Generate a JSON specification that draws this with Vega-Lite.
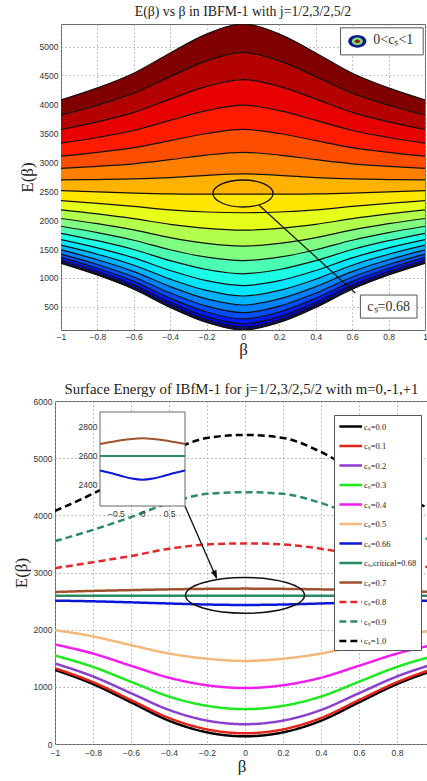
{
"$schema":"https://vega.github.io/schema/vega-lite/v6.json",
"background":"white",
"padding":{"left":11,"top":4,"right":0,"bottom":0},
"columns":1,
"spacing":23,
"resolve":{"scale":{"color":"independent","strokeDash":"independent"},"legend":{"color":"independent","strokeDash":"independent"}},
"datasets":{
"contours":[
{"b":-1,"k":0,"E":1253},{"b":-0.8,"k":0,"E":1050},{"b":-0.6,"k":0,"E":805},{"b":-0.4,"k":0,"E":490},{"b":-0.2,"k":0,"E":230},{"b":0,"k":0,"E":100},{"b":0.2,"k":0,"E":230},{"b":0.4,"k":0,"E":490},{"b":0.6,"k":0,"E":805},{"b":0.8,"k":0,"E":1050},{"b":1,"k":0,"E":1253},
{"b":-1,"k":1,"E":1259},{"b":-0.8,"k":1,"E":1057},{"b":-0.6,"k":1,"E":813},{"b":-0.4,"k":1,"E":500},{"b":-0.2,"k":1,"E":241},{"b":0,"k":1,"E":112},{"b":0.2,"k":1,"E":241},{"b":0.4,"k":1,"E":500},{"b":0.6,"k":1,"E":813},{"b":0.8,"k":1,"E":1057},{"b":1,"k":1,"E":1259},
{"b":-1,"k":2,"E":1279},{"b":-0.8,"k":2,"E":1079},{"b":-0.6,"k":2,"E":839},{"b":-0.4,"k":2,"E":530},{"b":-0.2,"k":2,"E":275},{"b":0,"k":2,"E":148},{"b":0.2,"k":2,"E":275},{"b":0.4,"k":2,"E":530},{"b":0.6,"k":2,"E":839},{"b":0.8,"k":2,"E":1079},{"b":1,"k":2,"E":1279},
{"b":-1,"k":3,"E":1311},{"b":-0.8,"k":3,"E":1116},{"b":-0.6,"k":3,"E":881},{"b":-0.4,"k":3,"E":580},{"b":-0.2,"k":3,"E":332},{"b":0,"k":3,"E":208},{"b":0.2,"k":3,"E":332},{"b":0.4,"k":3,"E":580},{"b":0.6,"k":3,"E":881},{"b":0.8,"k":3,"E":1116},{"b":1,"k":3,"E":1311},
{"b":-1,"k":4,"E":1356},{"b":-0.8,"k":4,"E":1167},{"b":-0.6,"k":4,"E":941},{"b":-0.4,"k":4,"E":650},{"b":-0.2,"k":4,"E":411},{"b":0,"k":4,"E":292},{"b":0.2,"k":4,"E":411},{"b":0.4,"k":4,"E":650},{"b":0.6,"k":4,"E":941},{"b":0.8,"k":4,"E":1167},{"b":1,"k":4,"E":1356},
{"b":-1,"k":5,"E":1413},{"b":-0.8,"k":5,"E":1233},{"b":-0.6,"k":5,"E":1017},{"b":-0.4,"k":5,"E":739},{"b":-0.2,"k":5,"E":513},{"b":0,"k":5,"E":400},{"b":0.2,"k":5,"E":513},{"b":0.4,"k":5,"E":739},{"b":0.6,"k":5,"E":1017},{"b":0.8,"k":5,"E":1233},{"b":1,"k":5,"E":1413},
{"b":-1,"k":6,"E":1484},{"b":-0.8,"k":6,"E":1314},{"b":-0.6,"k":6,"E":1110},{"b":-0.4,"k":6,"E":849},{"b":-0.2,"k":6,"E":637},{"b":0,"k":6,"E":532},{"b":0.2,"k":6,"E":637},{"b":0.4,"k":6,"E":849},{"b":0.6,"k":6,"E":1110},{"b":0.8,"k":6,"E":1314},{"b":1,"k":6,"E":1484},
{"b":-1,"k":7,"E":1567},{"b":-0.8,"k":7,"E":1410},{"b":-0.6,"k":7,"E":1220},{"b":-0.4,"k":7,"E":979},{"b":-0.2,"k":7,"E":784},{"b":0,"k":7,"E":688},{"b":0.2,"k":7,"E":784},{"b":0.4,"k":7,"E":979},{"b":0.6,"k":7,"E":1220},{"b":0.8,"k":7,"E":1410},{"b":1,"k":7,"E":1567},
{"b":-1,"k":8,"E":1663},{"b":-0.8,"k":8,"E":1520},{"b":-0.6,"k":8,"E":1347},{"b":-0.4,"k":8,"E":1129},{"b":-0.2,"k":8,"E":953},{"b":0,"k":8,"E":868},{"b":0.2,"k":8,"E":953},{"b":0.4,"k":8,"E":1129},{"b":0.6,"k":8,"E":1347},{"b":0.8,"k":8,"E":1520},{"b":1,"k":8,"E":1663},
{"b":-1,"k":9,"E":1772},{"b":-0.8,"k":9,"E":1644},{"b":-0.6,"k":9,"E":1491},{"b":-0.4,"k":9,"E":1298},{"b":-0.2,"k":9,"E":1146},{"b":0,"k":9,"E":1072},{"b":0.2,"k":9,"E":1146},{"b":0.4,"k":9,"E":1298},{"b":0.6,"k":9,"E":1491},{"b":0.8,"k":9,"E":1644},{"b":1,"k":9,"E":1772},
{"b":-1,"k":10,"E":1894},{"b":-0.8,"k":10,"E":1784},{"b":-0.6,"k":10,"E":1652},{"b":-0.4,"k":10,"E":1488},{"b":-0.2,"k":10,"E":1360},{"b":0,"k":10,"E":1300},{"b":0.2,"k":10,"E":1360},{"b":0.4,"k":10,"E":1488},{"b":0.6,"k":10,"E":1652},{"b":0.8,"k":10,"E":1784},{"b":1,"k":10,"E":1894},
{"b":-1,"k":11,"E":2028},{"b":-0.8,"k":11,"E":1938},{"b":-0.6,"k":11,"E":1830},{"b":-0.4,"k":11,"E":1697},{"b":-0.2,"k":11,"E":1598},{"b":0,"k":11,"E":1551},{"b":0.2,"k":11,"E":1598},{"b":0.4,"k":11,"E":1697},{"b":0.6,"k":11,"E":1830},{"b":0.8,"k":11,"E":1938},{"b":1,"k":11,"E":2028},
{"b":-1,"k":12,"E":2176},{"b":-0.8,"k":12,"E":2107},{"b":-0.6,"k":12,"E":2025},{"b":-0.4,"k":12,"E":1927},{"b":-0.2,"k":12,"E":1858},{"b":0,"k":12,"E":1827},{"b":0.2,"k":12,"E":1858},{"b":0.4,"k":12,"E":1927},{"b":0.6,"k":12,"E":2025},{"b":0.8,"k":12,"E":2107},{"b":1,"k":12,"E":2176},
{"b":-1,"k":13,"E":2336},{"b":-0.8,"k":13,"E":2290},{"b":-0.6,"k":13,"E":2236},{"b":-0.4,"k":13,"E":2176},{"b":-0.2,"k":13,"E":2140},{"b":0,"k":13,"E":2127},{"b":0.2,"k":13,"E":2140},{"b":0.4,"k":13,"E":2176},{"b":0.6,"k":13,"E":2236},{"b":0.8,"k":13,"E":2290},{"b":1,"k":13,"E":2336},
{"b":-1,"k":14,"E":2509},{"b":-0.8,"k":14,"E":2488},{"b":-0.6,"k":14,"E":2465},{"b":-0.4,"k":14,"E":2452},{"b":-0.2,"k":14,"E":2449},{"b":0,"k":14,"E":2450},{"b":0.2,"k":14,"E":2449},{"b":0.4,"k":14,"E":2452},{"b":0.6,"k":14,"E":2465},{"b":0.8,"k":14,"E":2488},{"b":1,"k":14,"E":2509},
{"b":-1,"k":15,"E":2694},{"b":-0.8,"k":15,"E":2701},{"b":-0.6,"k":15,"E":2711},{"b":-0.4,"k":15,"E":2735},{"b":-0.2,"k":15,"E":2773},{"b":0,"k":15,"E":2799},{"b":0.2,"k":15,"E":2773},{"b":0.4,"k":15,"E":2735},{"b":0.6,"k":15,"E":2711},{"b":0.8,"k":15,"E":2701},{"b":1,"k":15,"E":2694},
{"b":-1,"k":16,"E":2893},{"b":-0.8,"k":16,"E":2929},{"b":-0.6,"k":16,"E":2973},{"b":-0.4,"k":16,"E":3044},{"b":-0.2,"k":16,"E":3124},{"b":0,"k":16,"E":3171},{"b":0.2,"k":16,"E":3124},{"b":0.4,"k":16,"E":3044},{"b":0.6,"k":16,"E":2973},{"b":0.8,"k":16,"E":2929},{"b":1,"k":16,"E":2893},
{"b":-1,"k":17,"E":3104},{"b":-0.8,"k":17,"E":3171},{"b":-0.6,"k":17,"E":3253},{"b":-0.4,"k":17,"E":3373},{"b":-0.2,"k":17,"E":3497},{"b":0,"k":17,"E":3567},{"b":0.2,"k":17,"E":3497},{"b":0.4,"k":17,"E":3373},{"b":0.6,"k":17,"E":3253},{"b":0.8,"k":17,"E":3171},{"b":1,"k":17,"E":3104},
{"b":-1,"k":18,"E":3329},{"b":-0.8,"k":18,"E":3428},{"b":-0.6,"k":18,"E":3549},{"b":-0.4,"k":18,"E":3723},{"b":-0.2,"k":18,"E":3892},{"b":0,"k":18,"E":3987},{"b":0.2,"k":18,"E":3892},{"b":0.4,"k":18,"E":3723},{"b":0.6,"k":18,"E":3549},{"b":0.8,"k":18,"E":3428},{"b":1,"k":18,"E":3329},
{"b":-1,"k":19,"E":3566},{"b":-0.8,"k":19,"E":3699},{"b":-0.6,"k":19,"E":3863},{"b":-0.4,"k":19,"E":4092},{"b":-0.2,"k":19,"E":4311},{"b":0,"k":19,"E":4430},{"b":0.2,"k":19,"E":4311},{"b":0.4,"k":19,"E":4092},{"b":0.6,"k":19,"E":3863},{"b":0.8,"k":19,"E":3699},{"b":1,"k":19,"E":3566},
{"b":-1,"k":20,"E":3815},{"b":-0.8,"k":20,"E":3985},{"b":-0.6,"k":20,"E":4193},{"b":-0.4,"k":20,"E":4481},{"b":-0.2,"k":20,"E":4752},{"b":0,"k":20,"E":4898},{"b":0.2,"k":20,"E":4752},{"b":0.4,"k":20,"E":4481},{"b":0.6,"k":20,"E":4193},{"b":0.8,"k":20,"E":3985},{"b":1,"k":20,"E":3815},
{"b":-1,"k":21,"E":4078},{"b":-0.8,"k":21,"E":4286},{"b":-0.6,"k":21,"E":4540},{"b":-0.4,"k":21,"E":4890},{"b":-0.2,"k":21,"E":5215},{"b":0,"k":21,"E":5390},{"b":0.2,"k":21,"E":5215},{"b":0.4,"k":21,"E":4890},{"b":0.6,"k":21,"E":4540},{"b":0.8,"k":21,"E":4286},{"b":1,"k":21,"E":4078}
],
"energy":[
{"b":-1,"c":0,"s":"cₛ=0.0","E":1297},{"b":-0.8,"c":0,"s":"cₛ=0.0","E":1049},{"b":-0.6,"c":0,"s":"cₛ=0.0","E":729},{"b":-0.4,"c":0,"s":"cₛ=0.0","E":408},{"b":-0.2,"c":0,"s":"cₛ=0.0","E":204},{"b":0,"c":0,"s":"cₛ=0.0","E":135},{"b":0.2,"c":0,"s":"cₛ=0.0","E":204},{"b":0.4,"c":0,"s":"cₛ=0.0","E":408},{"b":0.6,"c":0,"s":"cₛ=0.0","E":729},{"b":0.8,"c":0,"s":"cₛ=0.0","E":1049},{"b":1,"c":0,"s":"cₛ=0.0","E":1297},
{"b":-1,"c":0.1,"s":"cₛ=0.1","E":1325},{"b":-0.8,"c":0.1,"s":"cₛ=0.1","E":1082},{"b":-0.6,"c":0.1,"s":"cₛ=0.1","E":769},{"b":-0.4,"c":0.1,"s":"cₛ=0.1","E":455},{"b":-0.2,"c":0.1,"s":"cₛ=0.1","E":256},{"b":0,"c":0.1,"s":"cₛ=0.1","E":188},{"b":0.2,"c":0.1,"s":"cₛ=0.1","E":256},{"b":0.4,"c":0.1,"s":"cₛ=0.1","E":455},{"b":0.6,"c":0.1,"s":"cₛ=0.1","E":769},{"b":0.8,"c":0.1,"s":"cₛ=0.1","E":1082},{"b":1,"c":0.1,"s":"cₛ=0.1","E":1325},
{"b":-1,"c":0.2,"s":"cₛ=0.2","E":1408},{"b":-0.8,"c":0.2,"s":"cₛ=0.2","E":1182},{"b":-0.6,"c":0.2,"s":"cₛ=0.2","E":889},{"b":-0.4,"c":0.2,"s":"cₛ=0.2","E":596},{"b":-0.2,"c":0.2,"s":"cₛ=0.2","E":410},{"b":0,"c":0.2,"s":"cₛ=0.2","E":346},{"b":0.2,"c":0.2,"s":"cₛ=0.2","E":410},{"b":0.4,"c":0.2,"s":"cₛ=0.2","E":596},{"b":0.6,"c":0.2,"s":"cₛ=0.2","E":889},{"b":0.8,"c":0.2,"s":"cₛ=0.2","E":1182},{"b":1,"c":0.2,"s":"cₛ=0.2","E":1408},
{"b":-1,"c":0.3,"s":"cₛ=0.3","E":1547},{"b":-0.8,"c":0.3,"s":"cₛ=0.3","E":1349},{"b":-0.6,"c":0.3,"s":"cₛ=0.3","E":1089},{"b":-0.4,"c":0.3,"s":"cₛ=0.3","E":831},{"b":-0.2,"c":0.3,"s":"cₛ=0.3","E":668},{"b":0,"c":0.3,"s":"cₛ=0.3","E":610},{"b":0.2,"c":0.3,"s":"cₛ=0.3","E":668},{"b":0.4,"c":0.3,"s":"cₛ=0.3","E":831},{"b":0.6,"c":0.3,"s":"cₛ=0.3","E":1089},{"b":0.8,"c":0.3,"s":"cₛ=0.3","E":1349},{"b":1,"c":0.3,"s":"cₛ=0.3","E":1547},
{"b":-1,"c":0.4,"s":"cₛ=0.4","E":1742},{"b":-0.8,"c":0.4,"s":"cₛ=0.4","E":1582},{"b":-0.6,"c":0.4,"s":"cₛ=0.4","E":1369},{"b":-0.4,"c":0.4,"s":"cₛ=0.4","E":1160},{"b":-0.2,"c":0.4,"s":"cₛ=0.4","E":1028},{"b":0,"c":0.4,"s":"cₛ=0.4","E":979},{"b":0.2,"c":0.4,"s":"cₛ=0.4","E":1028},{"b":0.4,"c":0.4,"s":"cₛ=0.4","E":1160},{"b":0.6,"c":0.4,"s":"cₛ=0.4","E":1369},{"b":0.8,"c":0.4,"s":"cₛ=0.4","E":1582},{"b":1,"c":0.4,"s":"cₛ=0.4","E":1742},
{"b":-1,"c":0.5,"s":"cₛ=0.5","E":1992},{"b":-0.8,"c":0.5,"s":"cₛ=0.5","E":1882},{"b":-0.6,"c":0.5,"s":"cₛ=0.5","E":1729},{"b":-0.4,"c":0.5,"s":"cₛ=0.5","E":1583},{"b":-0.2,"c":0.5,"s":"cₛ=0.5","E":1492},{"b":0,"c":0.5,"s":"cₛ=0.5","E":1453},{"b":0.2,"c":0.5,"s":"cₛ=0.5","E":1492},{"b":0.4,"c":0.5,"s":"cₛ=0.5","E":1583},{"b":0.6,"c":0.5,"s":"cₛ=0.5","E":1729},{"b":0.8,"c":0.5,"s":"cₛ=0.5","E":1882},{"b":1,"c":0.5,"s":"cₛ=0.5","E":1992},
{"b":-1,"c":0.66,"s":"cₛ=0.66","E":2508},{"b":-0.8,"c":0.66,"s":"cₛ=0.66","E":2496},{"b":-0.6,"c":0.66,"s":"cₛ=0.66","E":2478},{"b":-0.4,"c":0.66,"s":"cₛ=0.66","E":2458},{"b":-0.2,"c":0.66,"s":"cₛ=0.66","E":2440},{"b":0,"c":0.66,"s":"cₛ=0.66","E":2432},{"b":0.2,"c":0.66,"s":"cₛ=0.66","E":2440},{"b":0.4,"c":0.66,"s":"cₛ=0.66","E":2458},{"b":0.6,"c":0.66,"s":"cₛ=0.66","E":2478},{"b":0.8,"c":0.66,"s":"cₛ=0.66","E":2496},{"b":1,"c":0.66,"s":"cₛ=0.66","E":2508},
{"b":-1,"c":0.68,"s":"cₛ,critical=0.68","E":2595},{"b":-0.8,"c":0.68,"s":"cₛ,critical=0.68","E":2595},{"b":-0.6,"c":0.68,"s":"cₛ,critical=0.68","E":2595},{"b":-0.4,"c":0.68,"s":"cₛ,critical=0.68","E":2595},{"b":-0.2,"c":0.68,"s":"cₛ,critical=0.68","E":2595},{"b":0,"c":0.68,"s":"cₛ,critical=0.68","E":2595},{"b":0.2,"c":0.68,"s":"cₛ,critical=0.68","E":2595},{"b":0.4,"c":0.68,"s":"cₛ,critical=0.68","E":2595},{"b":0.6,"c":0.68,"s":"cₛ,critical=0.68","E":2595},{"b":0.8,"c":0.68,"s":"cₛ,critical=0.68","E":2595},{"b":1,"c":0.68,"s":"cₛ,critical=0.68","E":2595},
{"b":-1,"c":0.7,"s":"cₛ=0.7","E":2659},{"b":-0.8,"c":0.7,"s":"cₛ=0.7","E":2678},{"b":-0.6,"c":0.7,"s":"cₛ=0.7","E":2692},{"b":-0.4,"c":0.7,"s":"cₛ=0.7","E":2705},{"b":-0.2,"c":0.7,"s":"cₛ=0.7","E":2714},{"b":0,"c":0.7,"s":"cₛ=0.7","E":2718},{"b":0.2,"c":0.7,"s":"cₛ=0.7","E":2714},{"b":0.4,"c":0.7,"s":"cₛ=0.7","E":2705},{"b":0.6,"c":0.7,"s":"cₛ=0.7","E":2692},{"b":0.8,"c":0.7,"s":"cₛ=0.7","E":2678},{"b":1,"c":0.7,"s":"cₛ=0.7","E":2659},
{"b":-1,"c":0.8,"s":"cₛ=0.8","E":3076},{"b":-0.8,"c":0.8,"s":"cₛ=0.8","E":3180},{"b":-0.6,"c":0.8,"s":"cₛ=0.8","E":3289},{"b":-0.4,"c":0.8,"s":"cₛ=0.8","E":3416},{"b":-0.2,"c":0.8,"s":"cₛ=0.8","E":3490},{"b":0,"c":0.8,"s":"cₛ=0.8","E":3509},{"b":0.2,"c":0.8,"s":"cₛ=0.8","E":3490},{"b":0.4,"c":0.8,"s":"cₛ=0.8","E":3416},{"b":0.6,"c":0.8,"s":"cₛ=0.8","E":3289},{"b":0.8,"c":0.8,"s":"cₛ=0.8","E":3180},{"b":1,"c":0.8,"s":"cₛ=0.8","E":3076},
{"b":-1,"c":0.9,"s":"cₛ=0.9","E":3548},{"b":-0.8,"c":0.9,"s":"cₛ=0.9","E":3746},{"b":-0.6,"c":0.9,"s":"cₛ=0.9","E":3969},{"b":-0.4,"c":0.9,"s":"cₛ=0.9","E":4215},{"b":-0.2,"c":0.9,"s":"cₛ=0.9","E":4376},{"b":0,"c":0.9,"s":"cₛ=0.9","E":4405},{"b":0.2,"c":0.9,"s":"cₛ=0.9","E":4376},{"b":0.4,"c":0.9,"s":"cₛ=0.9","E":4215},{"b":0.6,"c":0.9,"s":"cₛ=0.9","E":3969},{"b":0.8,"c":0.9,"s":"cₛ=0.9","E":3746},{"b":1,"c":0.9,"s":"cₛ=0.9","E":3548},
{"b":-1,"c":1,"s":"cₛ=1.0","E":4076},{"b":-0.8,"c":1,"s":"cₛ=1.0","E":4379},{"b":-0.6,"c":1,"s":"cₛ=1.0","E":4729},{"b":-0.4,"c":1,"s":"cₛ=1.0","E":5108},{"b":-0.2,"c":1,"s":"cₛ=1.0","E":5354},{"b":0,"c":1,"s":"cₛ=1.0","E":5407},{"b":0.2,"c":1,"s":"cₛ=1.0","E":5354},{"b":0.4,"c":1,"s":"cₛ=1.0","E":5108},{"b":0.6,"c":1,"s":"cₛ=1.0","E":4729},{"b":0.8,"c":1,"s":"cₛ=1.0","E":4379},{"b":1,"c":1,"s":"cₛ=1.0","E":4076}
]
},
"concat":[
{"hconcat":[
{"width":1,"height":1,"view":{"stroke":null},"data":{"values":[{"v":0}]},"mark":{"type":"point","opacity":0},"encoding":{}},
{
"width":364,"height":306,
"title":{"text":"E(β) vs β in IBFM-1 with j=1/2,3/2,5/2","font":"Liberation Serif","fontSize":13.8,"fontWeight":"normal","color":"#222","anchor":"middle","frame":"group","offset":5},
"layer":[
{"data":{"name":"contours"},
"transform":[{"window":[{"op":"lead","field":"E","as":"E2"}],"groupby":["b"],"sort":[{"field":"k","order":"ascending"}]},{"filter":"isValid(datum.E2)"}],
"mark":{"type":"area","interpolate":"monotone","clip":true},
"encoding":{
"x":{"field":"b","type":"quantitative","scale":{"domain":[-1,1],"nice":false,"zero":false},"axis":{"values":[-1,-0.8,-0.6,-0.4,-0.2,0,0.2,0.4,0.6,0.8,1],"tickCount":30,"format":"~g","title":"β","labelPadding":2,"titlePadding":1,"labelOverlap":false}},
"y":{"field":"E","type":"quantitative","scale":{"domain":[100,5390],"nice":false,"zero":false},"axis":{"values":[500,1000,1500,2000,2500,3000,3500,4000,4500,5000],"tickCount":30,"format":"d","title":"E(β)","labelPadding":3,"titlePadding":3,"labelOverlap":false}},
"y2":{"field":"E2"},
"color":{"field":"k","type":"ordinal","scale":{"domain":[0,1,2,3,4,5,6,7,8,9,10,11,12,13,14,15,16,17,18,19,20],"range":["#000080","#0000B3","#0000E6","#001AFF","#004DFF","#0080FF","#00B3FF","#00E6FF","#1AFFE6","#4DFFB3","#80FF80","#B3FF4D","#E6FF1A","#FFE600","#FFB300","#FF8000","#FF4D00","#FF1A00","#E60000","#B30000","#800000"]},"legend":null}
}},
{"data":{"name":"contours"},
"mark":{"type":"line","interpolate":"monotone","color":"#111","strokeWidth":1.2,"clip":true},
"encoding":{"x":{"field":"b","type":"quantitative"},"y":{"field":"E","type":"quantitative"},"detail":{"field":"k","type":"ordinal"}}},
{"data":{"values":[{"x":0,"y":2460}]},
"mark":{"type":"point","shape":"M-1,0A1,0.45,0,1,0,1,0A1,0.45,0,1,0,-1,0Z","size":3600,"filled":false,"stroke":"#111","strokeWidth":1.3,"opacity":1},
"encoding":{"x":{"field":"x","type":"quantitative"},"y":{"field":"y","type":"quantitative"}}},
{"data":{"values":[{"x":0.087,"y":2261,"x2":0.617,"y2":739}]},
"mark":{"type":"rule","color":"#111","strokeWidth":1.2},
"encoding":{"x":{"field":"x","type":"quantitative"},"y":{"field":"y","type":"quantitative"},"x2":{"field":"x2"},"y2":{"field":"y2"}}},
{"data":{"values":[{"x":0.645,"x2":0.956,"y":306,"y2":704},{"x":0.536,"x2":0.99,"y":4856,"y2":5324}]},
"mark":{"type":"rect","fill":"white","stroke":"#555","strokeWidth":1},
"encoding":{"x":{"field":"x","type":"quantitative"},"x2":{"field":"x2"},"y":{"field":"y","type":"quantitative"},"y2":{"field":"y2"}}},
{"data":{"values":[{"x":0.8,"y":505,"t":"cₛ=0.68"}]},
"mark":{"type":"text","font":"Liberation Serif","fontSize":14,"color":"#333","align":"center","baseline":"middle"},
"encoding":{"x":{"field":"x","type":"quantitative"},"y":{"field":"y","type":"quantitative"},"text":{"field":"t"}}},
{"data":{"values":[{"x":0.716,"y":5110,"t":"0<cₛ<1"}]},
"mark":{"type":"text","font":"Liberation Serif","fontSize":14,"color":"#333","align":"left","baseline":"middle"},
"encoding":{"x":{"field":"x","type":"quantitative"},"y":{"field":"y","type":"quantitative"},"text":{"field":"t"}}},
{"data":{"values":[{"x":0.628,"y":5090}]},
"mark":{"type":"point","shape":"M-1,0A1,0.7,0,1,0,1,0A1,0.7,0,1,0,-1,0Z","size":324,"filled":true,"color":"#0a1a8a","opacity":1},
"encoding":{"x":{"field":"x","type":"quantitative"},"y":{"field":"y","type":"quantitative"}}},
{"data":{"values":[{"x":0.628,"y":5090}]},
"mark":{"type":"point","shape":"M-1,0A1,0.7,0,1,0,1,0A1,0.7,0,1,0,-1,0Z","size":121,"filled":true,"color":"#7fe07a","opacity":1},
"encoding":{"x":{"field":"x","type":"quantitative"},"y":{"field":"y","type":"quantitative"}}},
{"data":{"values":[{"x":0.628,"y":5090}]},
"mark":{"type":"point","shape":"M-1,0A1,0.7,0,1,0,1,0A1,0.7,0,1,0,-1,0Z","size":30,"filled":true,"color":"#b01010","opacity":1},
"encoding":{"x":{"field":"x","type":"quantitative"},"y":{"field":"y","type":"quantitative"}}}
]
}
],"spacing":5,"bounds":"flush"},
{
"width":373,"height":343,
"title":{"text":"Surface Energy of IBfM-1 for j=1/2,3/2,5/2 with m=0,-1,+1","font":"Liberation Serif","fontSize":14.8,"fontWeight":"normal","color":"#222","anchor":"middle","frame":"group","offset":0},
"layer":[
{"layer":[
{"data":{"name":"energy"},
"mark":{"type":"line","interpolate":"monotone","strokeWidth":2.5,"clip":true},
"encoding":{
"x":{"field":"b","type":"quantitative","scale":{"domain":[-1,0.963],"nice":false,"zero":false},"axis":{"values":[-1,-0.8,-0.6,-0.4,-0.2,0,0.2,0.4,0.6,0.8],"tickCount":30,"format":"~g","title":"β","labelPadding":4,"titlePadding":2,"labelOverlap":false}},
"y":{"field":"E","type":"quantitative","scale":{"domain":[0,6000],"nice":false},"axis":{"values":[0,1000,2000,3000,4000,5000,6000],"tickCount":30,"format":"d","title":"E(β)","labelPadding":3,"titlePadding":3,"labelOverlap":false}},
"color":{"field":"s","type":"nominal","scale":{"domain":["cₛ=0.0","cₛ=0.1","cₛ=0.2","cₛ=0.3","cₛ=0.4","cₛ=0.5","cₛ=0.66","cₛ,critical=0.68","cₛ=0.7","cₛ=0.8","cₛ=0.9","cₛ=1.0"],"range":["#000000","#e3241b","#8a3fcf","#1ee81e","#f01cf0","#f5b77a","#0b17d9","#2a8a62","#a0522d","#e8272b","#2e8a6a","#000000"]},
"legend":{"orient":"none","legendX":279,"legendY":14,"title":null,"fillColor":"white","strokeColor":"#555","padding":4,"symbolType":"M-1,0H2.7","symbolSize":150,"symbolStrokeWidth":2.5,"labelFont":"Liberation Serif","labelFontSize":8.5,"labelColor":"#222","labelOffset":11,"rowPadding":6.5,"labelLimit":200}},
"strokeDash":{"field":"s","type":"nominal","scale":{"domain":["cₛ=0.0","cₛ=0.1","cₛ=0.2","cₛ=0.3","cₛ=0.4","cₛ=0.5","cₛ=0.66","cₛ,critical=0.68","cₛ=0.7","cₛ=0.8","cₛ=0.9","cₛ=1.0"],"range":[[1,0],[1,0],[1,0],[1,0],[1,0],[1,0],[1,0],[1,0],[1,0],[7,4],[7,4],[7,4]]},
"legend":{"orient":"none","legendX":279,"legendY":14,"title":null,"fillColor":"white","strokeColor":"#555","padding":4,"symbolType":"M-1,0H2.7","symbolSize":150,"symbolStrokeWidth":2.5,"labelFont":"Liberation Serif","labelFontSize":8.5,"labelColor":"#222","labelOffset":11,"rowPadding":6.5,"labelLimit":200}}
}},
{"data":{"values":[{"x":0,"y":2600}]},
"mark":{"type":"point","shape":"M-1,0A1,0.3,0,1,0,1,0A1,0.3,0,1,0,-1,0Z","size":14161,"filled":false,"stroke":"#111","strokeWidth":1.5,"opacity":1},
"encoding":{"x":{"field":"x","type":"quantitative"},"y":{"field":"y","type":"quantitative"}}},
{"data":{"values":[{"x":-0.316,"y":4161,"x2":-0.15,"y2":2900}]},
"mark":{"type":"rule","color":"#111","strokeWidth":1.3},
"encoding":{"x":{"field":"x","type":"quantitative"},"y":{"field":"y","type":"quantitative"},"x2":{"field":"x2"},"y2":{"field":"y2"}}},
{"data":{"values":[{"x":-0.147,"y":2885}]},
"mark":{"type":"point","shape":"M0,0L-0.45,-1.3L0.45,-1.3Z","size":180,"filled":true,"color":"#111","opacity":1,"angle":337},
"encoding":{"x":{"field":"x","type":"quantitative"},"y":{"field":"y","type":"quantitative"}}}
]},
{"layer":[
{"data":{"values":[{"x":-0.8,"x2":0.8,"y":2250,"y2":2900}]},
"mark":{"type":"rect","fill":"white","stroke":"#666","strokeWidth":1},
"encoding":{
"x":{"field":"x","type":"quantitative","scale":{"domain":[-0.8,0.8],"range":[45,130],"nice":false,"zero":false},"axis":{"orient":"bottom","offset":-238,"values":[-0.5,0,0.5],"tickCount":30,"format":"~g","grid":false,"title":null,"zindex":1,"labelPadding":3,"labelOverlap":false}},
"x2":{"field":"x2"},
"y":{"field":"y","type":"quantitative","scale":{"domain":[2250,2900],"range":[105,11],"nice":false,"zero":false},"axis":{"orient":"left","offset":-45,"values":[2400,2600,2800],"tickCount":30,"format":"d","grid":false,"title":null,"zindex":1,"labelPadding":3,"labelOverlap":false}},
"y2":{"field":"y2"}}},
{"data":{"name":"energy"},
"transform":[{"filter":{"field":"c","oneOf":[0.66,0.68,0.7]}},{"filter":{"field":"b","range":[-0.8,0.8]}}],
"mark":{"type":"line","interpolate":"monotone","strokeWidth":2},
"encoding":{"x":{"field":"b","type":"quantitative"},"y":{"field":"E","type":"quantitative"},"color":{"field":"s","type":"nominal"}}}
]}
],
"resolve":{"scale":{"x":"independent","y":"independent"},"axis":{"x":"independent","y":"independent"}}
}
],
"config":{
"view":{"stroke":"#666","strokeWidth":1},
"axis":{"grid":true,"gridColor":"#9a9a9a","gridDash":[1.5,2.5],"gridWidth":0.8,"domain":false,"ticks":false,"labelOverlap":false,"labelFlush":false,"labelFont":"Liberation Sans","labelFontSize":8.5,"labelColor":"#333","titleFont":"Liberation Serif","titleFontSize":17,"titleFontWeight":"normal","titleColor":"#222"}
}
}
